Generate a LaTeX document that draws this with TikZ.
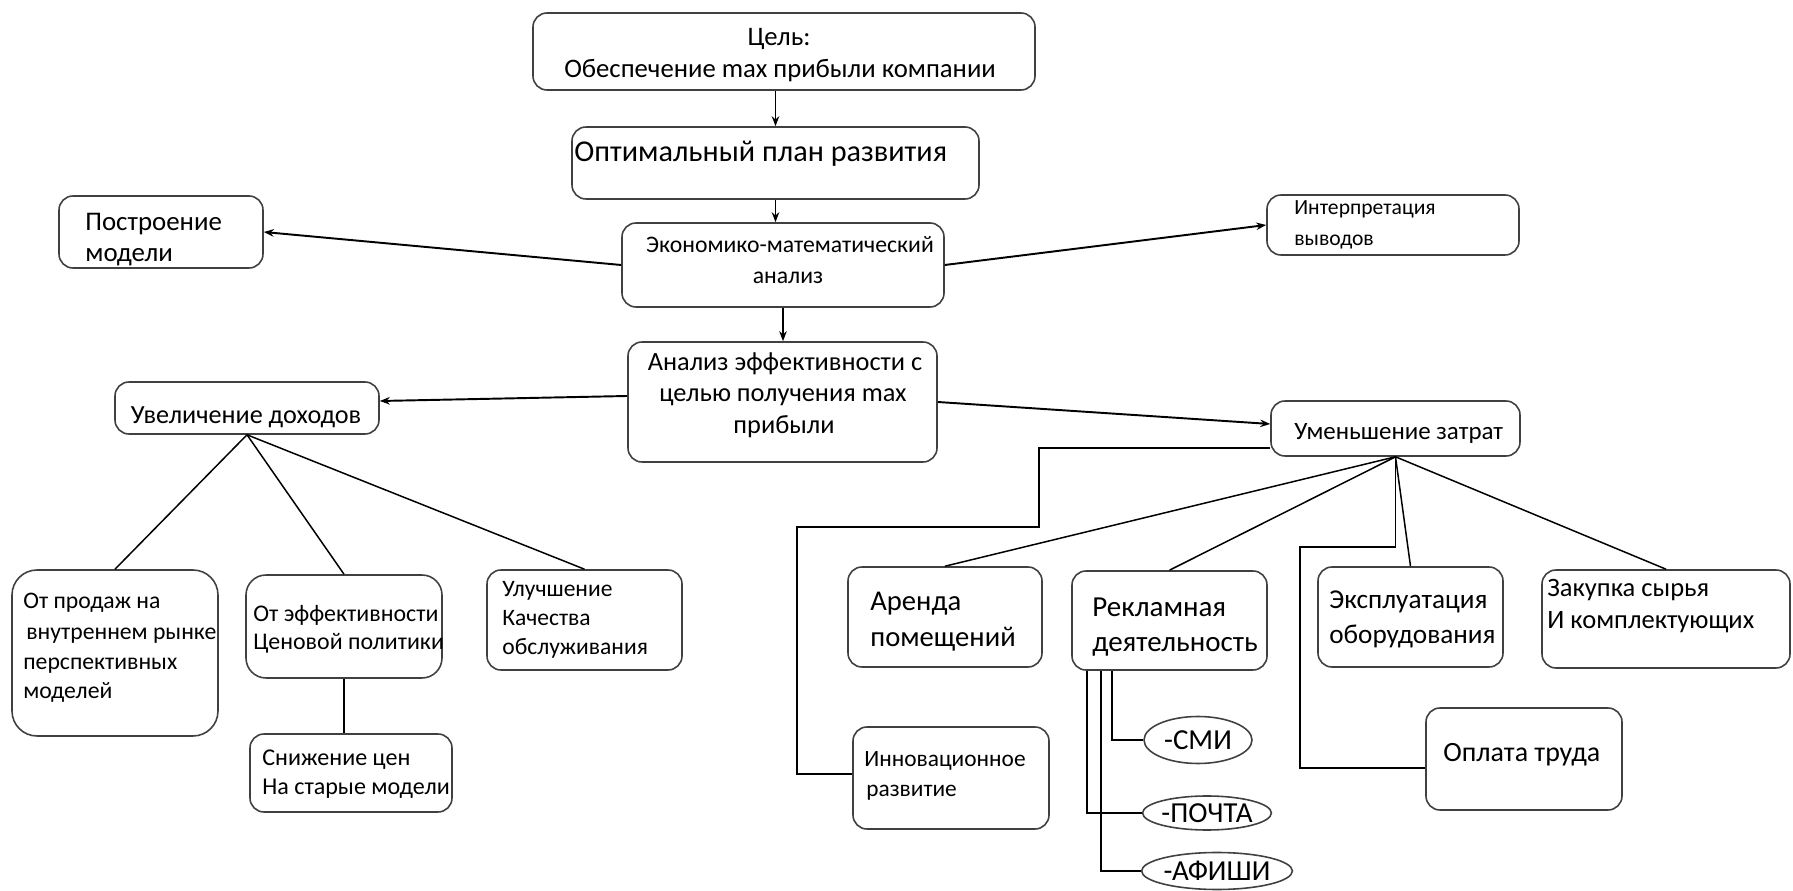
\documentclass[tikz,border=0pt]{standalone}
\usepackage{fontspec}
\setmainfont{Carlito}
\usetikzlibrary{fit,shapes.geometric,arrows.meta,calc}
\newcommand\fsz[1]{\fontsize{#1pt}{#1pt}\selectfont}
\begin{document}
\begin{tikzpicture}[x=0.02cm,y=-0.02cm,
  box/.style={draw=black!75, line width=0.9pt, rounded corners=0.28cm, inner sep=0pt},
  ell/.style={draw=black!75, line width=0.9pt, ellipse, inner sep=0pt},
  tl/.style={anchor=mid west, inner sep=0pt, text=black},
  tc/.style={anchor=mid, inner sep=0pt, text=black},
  con/.style={draw=black, line width=0.85pt},
  arr/.style={draw=black, line width=1.1pt, -{Stealth[length=0.2cm,width=0.15cm]}},
]
\useasboundingbox (0,0) rectangle (1793,891);

% boxes
\node[box, fit={(533,13) (1035,90)}] (goal) {};
\node[box, fit={(572,127) (979,199)}] (plan) {};
\node[box, fit={(622,223) (944,307)}] (econ) {};
\node[box, fit={(59,196) (263,268)}] (build) {};
\node[box, fit={(1267,195) (1519,255)}] (interp) {};
\node[box, fit={(628,342) (937,462)}] (eff) {};
\node[box, fit={(115,382) (379,434)}] (inc) {};
\node[box, fit={(1271,401) (1520,456)}] (cut) {};
\node[box, rounded corners=0.5cm, fit={(12,570) (218,736)}] (sales) {};
\node[box, rounded corners=0.4cm, fit={(246,575) (442,678)}] (price) {};
\node[box, fit={(487,570) (682,670)}] (improve) {};
\node[box, fit={(250,734) (452,812)}] (lower) {};
\node[box, fit={(848,567) (1042,667)}] (arenda) {};
\node[box, fit={(1072,571) (1267,670)}] (reklama) {};
\node[box, fit={(1318,567) (1503,667)}] (ekspl) {};
\node[box, fit={(1542,570) (1790,668)}] (zakupka) {};
\node[box, fit={(853,727) (1049,829)}] (innov) {};
\node[box, fit={(1426,708) (1622,810)}] (oplata) {};

% ellipses
\node[ell, minimum width=2.16cm, minimum height=0.94cm, font=\fsz{16.5}] (smi) at (1198,740) {-СМИ};
\node[ell, minimum width=2.12cm, minimum height=0.68cm, font=\fsz{16.5}] (pochta) at (1207,813) {-ПОЧТА};
\node[ell, minimum width=2.52cm, minimum height=0.74cm, font=\fsz{16.5}] (afishi) at (1217,871) {-АФИШИ};

% texts
\node[tc, font=\fsz{15.2}] (goalA) at (779,41) {Цель:};
\node[tc, font=\fsz{15.2}] (goalB) at (780,73) {Обеспечение max прибыли компании};
\node[tl, font=\fsz{17.2}] (planA) at (574,157) {Оптимальный план развития};
\node[tc, font=\fsz{13.5}] (econA) at (790,248) {Экономико-математический};
\node[tc, font=\fsz{13.5}] (econB) at (788,279) {анализ};
\node[tl, font=\fsz{15.3}] (buildA) at (85,226) {Построение};
\node[tl, font=\fsz{15.3}] (buildB) at (85,257) {модели};
\node[tl, font=\fsz{12.3}] (interpA) at (1294,210) {Интерпретация};
\node[tl, font=\fsz{12.3}] (interpB) at (1294,241) {выводов};
\node[tc, font=\fsz{15}] (effA) at (785,366) {Анализ эффективности с};
\node[tc, font=\fsz{15}] (effB) at (783,397) {целью получения max};
\node[tc, font=\fsz{15}] (effC) at (784,429) {прибыли};
\node[tc, font=\fsz{14.9}] (incA) at (246,419) {Увеличение доходов};
\node[tl, font=\fsz{14.2}] (cutA) at (1294,435) {Уменьшение затрат};
\node[tl, font=\fsz{13.5}] (salesA) at (23,604) {От продаж на};
\node[tl, font=\fsz{13.5}] (salesB) at (26,635) {внутреннем рынке};
\node[tl, font=\fsz{13.5}] (salesC) at (23,665) {перспективных};
\node[tl, font=\fsz{13.5}] (salesD) at (23,694) {моделей};
\node[tl, font=\fsz{13.6}] (priceA) at (253,617) {От эффективности};
\node[tl, font=\fsz{13.6}] (priceB) at (253,645) {Ценовой политики};
\node[tl, font=\fsz{13.7}] (lowerA) at (262,761) {Снижение цен};
\node[tl, font=\fsz{13.7}] (lowerB) at (262,790) {На старые модели};
\node[tl, font=\fsz{13.4}] (improveA) at (502,592) {Улучшение};
\node[tl, font=\fsz{13.4}] (improveB) at (502,621) {Качества};
\node[tl, font=\fsz{13.4}] (improveC) at (502,650) {обслуживания};
\node[tl, font=\fsz{16.3}] (arendaA) at (870,606) {Аренда};
\node[tl, font=\fsz{16.3}] (arendaB) at (870,642) {помещений};
\node[tl, font=\fsz{16.5}] (reklamaA) at (1092,612) {Рекламная};
\node[tl, font=\fsz{16.5}] (reklamaB) at (1092,647) {деятельность};
\node[tl, font=\fsz{15.5}] (eksplA) at (1329,604) {Эксплуатация};
\node[tl, font=\fsz{15.5}] (eksplB) at (1329,639) {оборудования};
\node[tl, font=\fsz{15.1}] (zakupkaA) at (1547,592) {Закупка сырья};
\node[tl, font=\fsz{15.1}] (zakupkaB) at (1547,624) {И комплектующих};
\node[tl, font=\fsz{13.3}] (innovA) at (864,762) {Инновационное};
\node[tl, font=\fsz{13.3}] (innovB) at (866,792) {развитие};
\node[tl, font=\fsz{15.9}] (oplataA) at (1443,757) {Оплата труда};

% helper coordinates
\coordinate (y396) at (0,396);
\coordinate (y401) at (0,401);
\coordinate (y424) at (0,424);
\coordinate (y448) at (0,448);
\coordinate (y768) at (0,768);
\coordinate (k1) at (1039,527);
\coordinate (k2) at (797,774);
\coordinate (c1) at (1300,547);

% arrows
\draw[arr] (plan.north |- goal.south) -- (plan.north);
\draw[arr] (plan.south) -- (plan.south |- econ.north);
\draw[arr] (econ.west) -- (build.east);
\draw[arr] (econ.east) -- (interp.west);
\draw[arr] (econ.south) -- (econ.south |- eff.north);
\draw[arr] (eff.west |- y396) -- (inc.east |- y401);
\draw[arr] (eff.east) -- (cut.west |- y424);

% plain connectors
\draw[con] (inc.south) -- (sales.north);
\draw[con] (inc.south) -- (price.north);
\draw[con] (inc.south) -- (improve.north);
\draw[con] (price.south) -- (price.south |- lower.north);
\draw[con] (cut.south) -- (arenda.north);
\draw[con] (cut.south) -- (reklama.north);
\draw[con] (cut.south) -- (ekspl.north);
\draw[con] (cut.south) -- (zakupka.north);
\draw[con] (cut.south) |- (c1) |- (oplata.west |- y768);
\draw[con] (cut.west |- y448) -| (k1) -| (k2) -- (innov.west |- k2);
\draw[con] ([xshift=0.82cm]reklama.south west) |- (smi.west);
\draw[con] ([xshift=0.32cm]reklama.south west) |- (pochta.west);
\draw[con] ([xshift=0.60cm]reklama.south west) |- (afishi.west);
\end{tikzpicture}
\end{document}
